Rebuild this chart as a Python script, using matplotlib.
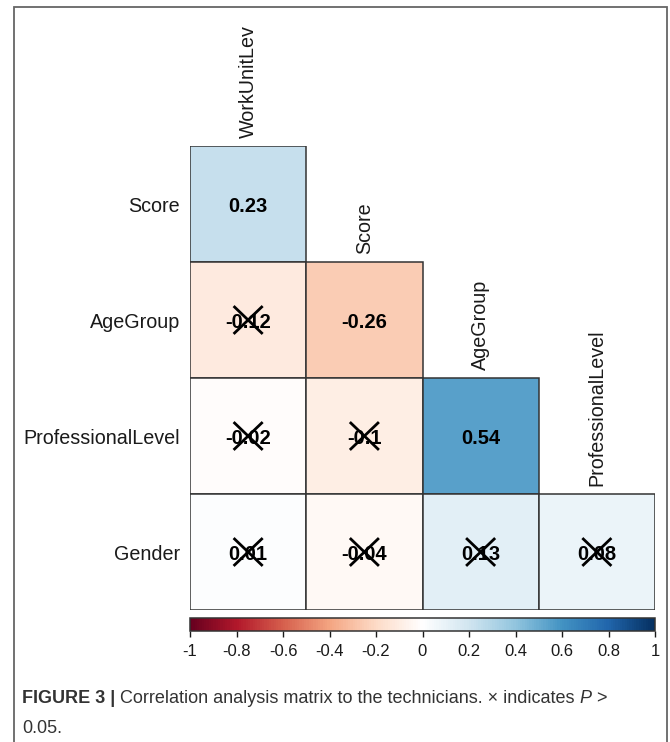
import matplotlib
matplotlib.use("Agg")
import matplotlib.pyplot as plt
import numpy as np
from matplotlib.colors import LinearSegmentedColormap, Normalize
from matplotlib.patches import Rectangle
import matplotlib.colorbar as mcolorbar

plt.rcParams['font.family'] = ['Liberation Sans', 'DejaVu Sans']

# ---- data ----
row_labels = ["Score", "AgeGroup", "ProfessionalLevel", "Gender"]
col_labels = ["WorkUnitLev", "Score", "AgeGroup", "ProfessionalLevel"]
row_score = [0.23]
row_agegroup = [-0.12, -0.26]
row_proflevel = [-0.02, -0.1, 0.54]
row_gender = [0.01, -0.04, 0.13, 0.08]
values = [row_score, row_agegroup, row_proflevel, row_gender]
# True = not significant (P > 0.05), drawn with a cross
sig_score = [False]
sig_agegroup = [True, False]
sig_proflevel = [True, True, False]
sig_gender = [True, True, True, True]
crossed = [sig_score, sig_agegroup, sig_proflevel, sig_gender]
cbar_ticks = [-1, -0.8, -0.6, -0.4, -0.2, 0, 0.2, 0.4, 0.6, 0.8, 1]
cbar_ticklabels = ["-1", "-0.8", "-0.6", "-0.4", "-0.2", "0", "0.2", "0.4", "0.6", "0.8", "1"]

palette = ["#67001F", "#B2182B", "#D6604D", "#F4A582", "#FDDBC7", "#FFFFFF",
           "#D1E5F0", "#92C5DE", "#4393C3", "#2166AC", "#053061"]
cmap = LinearSegmentedColormap.from_list("corr", palette, N=200)
norm = Normalize(-1, 1)

W, H = 670, 742
fig = plt.figure(figsize=(W / 100, H / 100), dpi=100)

def px(x0, y0, x1, y1):
    return [x0 / W, 1 - y1 / H, (x1 - x0) / W, (y1 - y0) / H]

# outer frame (open at bottom)
fig.add_artist(Rectangle((14 / W, -0.1), (667 - 14) / W, 1 - 7 / H + 0.1,
                         transform=fig.transFigure, fill=False,
                         ec="#666666", lw=1.3))

ax = fig.add_axes(px(190, 146, 655, 610))
ax.set_xlim(0, 4)
ax.set_ylim(4, 0)
ax.axis("off")

n = len(row_labels)
unit_px = 116.0
for i in range(n):
    for j, v in enumerate(values[i]):
        ax.add_patch(Rectangle((j, i), 1, 1, facecolor=cmap(norm(v)),
                               edgecolor="#333333", lw=1.1))
        ax.text(j + 0.5, i + 0.5, str(round(v, 2)), ha="center",
                va="center_baseline", fontsize=14.5, fontweight="bold",
                color="black")
        if crossed[i][j]:
            dx, dy = 0.125, 0.12
            ax.plot([j + 0.5 - dx, j + 0.5 + dx], [i + 0.5 - dy, i + 0.5 + dy],
                    color="black", lw=2.0, solid_capstyle="butt")
            ax.plot([j + 0.5 - dx, j + 0.5 + dx], [i + 0.5 + dy, i + 0.5 - dy],
                    color="black", lw=2.0, solid_capstyle="butt")
    ax.text(-10 / unit_px, i + 0.5, row_labels[i], ha="right",
            va="center_baseline", fontsize=14.2, color="#1a1a1a")

for j, lab in enumerate(col_labels):
    ax.text(j + 0.5, j - 8 / unit_px, lab, rotation=90, ha="center",
            va="bottom", fontsize=14.2, color="#1a1a1a")

# colorbar
cax = fig.add_axes(px(190, 618, 655, 631))
cb = mcolorbar.ColorbarBase(cax, cmap=cmap, norm=norm, orientation="horizontal",
                            ticks=cbar_ticks)
cb.set_ticklabels(cbar_ticklabels)
cb.outline.set_linewidth(1.1)
cb.outline.set_edgecolor("#333333")
cax.tick_params(axis="x", length=4, width=1, labelsize=12, pad=5,
                colors="#1a1a1a")

# caption
fig.canvas.draw()
renderer = fig.canvas.get_renderer()

def seg_text(x, y, parts):
    for s, kw in parts:
        t = fig.text(x, y, s, ha="left", va="baseline", fontsize=13,
                     color="#333333", transform=None, **kw)
        bb = t.get_window_extent(renderer=renderer)
        x = bb.x1

seg_text(22, H - 703, [("FIGURE 3 | ", dict(fontweight="bold")),
                       ("Correlation analysis matrix to the technicians. \u00d7 indicates ", {}),
                       ("P", dict(style="italic")),
                       (" >", {})])
seg_text(22, H - 733, [("0.05.", {})])

fig.savefig("out.png", dpi=100)
